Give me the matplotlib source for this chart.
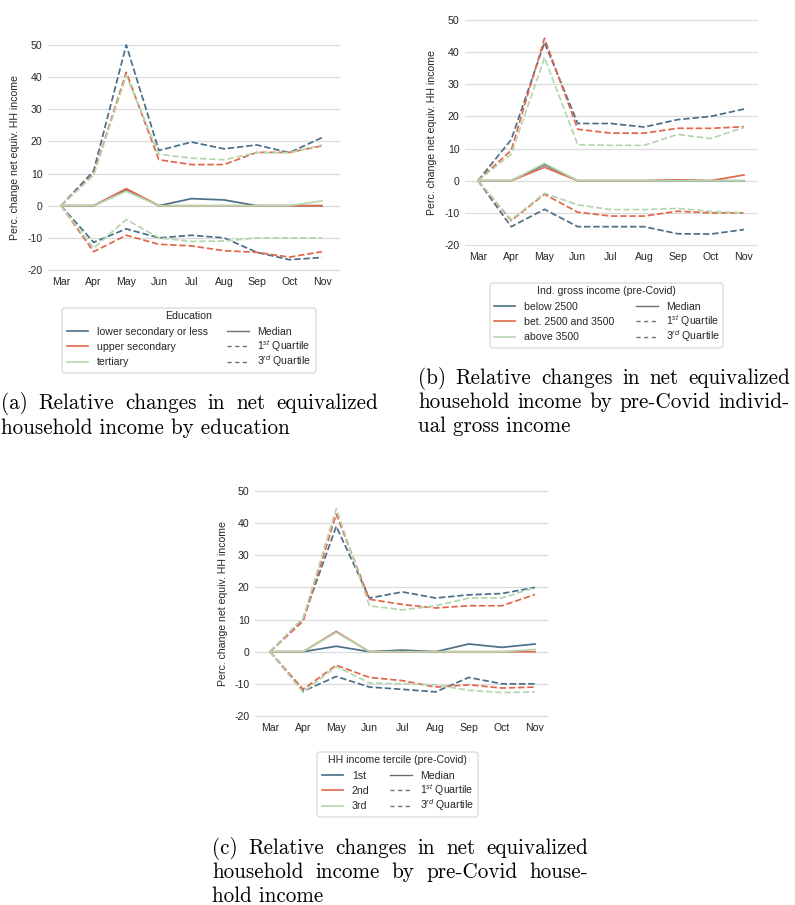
import numpy as np
import matplotlib
matplotlib.use('Agg')
import matplotlib.pyplot as plt
from matplotlib.lines import Line2D
from matplotlib.patches import FancyBboxPatch

W, H = 795, 905

months = ['Mar', 'Apr', 'May', 'Jun', 'Jul', 'Aug', 'Sep', 'Oct', 'Nov']
yticks = [-20, -10, 0, 10, 20, 30, 40, 50]

# (a) education
edu_labels = ['lower secondary or less', 'upper secondary', 'tertiary']
edu_low_med = [0, 0, 5.0, 0, 2.2, 1.8, 0, 0, 0]
edu_upp_med = [0, 0, 5.3, 0, 0, 0, 0, 0, 0]
edu_ter_med = [0, 0, 4.5, 0, 0, 0, 0, 0, 1.5]
edu_low_q1 = [0, -11.4, -7.2, -10, -9.2, -10, -14.5, -16.8, -16.1]
edu_upp_q1 = [0, -14.3, -9.2, -12, -12.5, -14, -14.5, -16, -14.3]
edu_ter_q1 = [0, -13.2, -4.3, -10, -11.1, -11, -10, -10, -10]
edu_low_q3 = [0, 10.8, 50, 17.2, 19.8, 17.7, 18.9, 16.5, 21.2]
edu_upp_q3 = [0, 9.8, 41.5, 14.3, 12.8, 12.8, 16.6, 16.6, 18.6]
edu_ter_q3 = [0, 9.5, 40.5, 16, 14.8, 14.3, 16.5, 16.5, 18.9]

# (b) individual gross income
inc_labels = ['below 2500', 'bet. 2500 and 3500', 'above 3500']
inc_low_med = [0, 0, 5.0, 0, 0, 0, 0, 0, 0]
inc_mid_med = [0, 0, 4.2, 0, 0, 0, 0.3, 0, 1.8]
inc_high_med = [0, 0, 5.4, 0, 0, 0, 0, 0, 0]
inc_low_q1 = [0, -14.3, -8.9, -14.3, -14.3, -14.3, -16.5, -16.6, -15.2]
inc_mid_q1 = [0, -12.4, -4.2, -9.8, -11, -11, -9.5, -10, -10]
inc_high_q1 = [0, -12.1, -3.9, -7.5, -9, -9, -8.6, -9.6, -10]
inc_low_q3 = [0, 12.8, 43, 17.8, 17.8, 16.7, 19, 20, 22.3]
inc_mid_q3 = [0, 9.5, 44.3, 16, 14.8, 14.8, 16.3, 16.3, 16.8]
inc_high_q3 = [0, 8.3, 38.3, 11.2, 11, 11, 14.4, 13.1, 16.6]

# (c) household income tercile
hh_labels = ['1st', '2nd', '3rd']
hh_1_med = [0, 0, 1.7, 0, 0.5, 0, 2.4, 1.35, 2.4]
hh_2_med = [0, 0, 6.3, 0, 0, 0, 0, 0, 0]
hh_3_med = [0, 0, 6.0, 0, 0, 0, 0, 0, 0.7]
hh_1_q1 = [0, -12.3, -7.7, -11, -11.7, -12.5, -8, -10, -10]
hh_2_q1 = [0, -11.7, -4.2, -8, -9, -11, -10.3, -11.3, -11]
hh_3_q1 = [0, -12.6, -4.6, -9.7, -10, -10.3, -12, -12.7, -12.5]
hh_1_q3 = [0, 10.3, 39, 16.7, 18.6, 16.7, 17.7, 18.1, 20]
hh_2_q3 = [0, 9.5, 42.8, 16.3, 14.7, 13.6, 14.3, 14.3, 17.8]
hh_3_q3 = [0, 10.5, 44.5, 14.3, 13, 14.3, 16.7, 16.7, 20]

stat_labels = ['Median', '1$^{st}$ Quartile', '3$^{rd}$ Quartile']
colors = ['#4b6f87', '#e2674a', '#b4d6ae']
gray = '#6e6e6e'
txt = '#262626'

plt.rcParams['font.family'] = ['Liberation Sans', 'DejaVu Sans']
plt.rcParams['mathtext.fontset'] = 'custom'
plt.rcParams['mathtext.rm'] = 'Liberation Sans'
plt.rcParams['mathtext.it'] = 'Liberation Sans:italic'
plt.rcParams['axes.unicode_minus'] = False

fs = 7.6
fig = plt.figure(figsize=(W / 100, H / 100), dpi=100)


def fx(px):
    return px / W


def fy(py):
    return 1 - py / H


def place(ax, mar_px, nov_px, y50_px, ym20_px, xlim, ylim=(-21, 52)):
    sx = (nov_px - mar_px) / 8
    sy = (ym20_px - y50_px) / 70
    left = mar_px + xlim[0] * sx
    right = mar_px + xlim[1] * sx
    top = y50_px - (ylim[1] - 50) * sy
    bottom = ym20_px + (-20 - ylim[0]) * sy
    ax.set_position([fx(left), fy(bottom), (right - left) / W, (bottom - top) / H])
    ax.set_xlim(*xlim)
    ax.set_ylim(*ylim)


def legend_box(left, right, top, col1, col2, title, labels):
    box = FancyBboxPatch((fx(left), fy(top + 65)), (right - left) / W, 65 / H,
                         boxstyle='round,pad=0,rounding_size=0.004',
                         transform=fig.transFigure, fc='white', ec='#d4d4d4', lw=0.8)
    fig.add_artist(box)
    fig.text(fx((left + right) / 2), fy(top + 11), title, ha='center', va='baseline',
             fontsize=fs, color=txt)
    styles = ['-', (0, (3, 2.5)), (0, (3, 2.5))]
    for i in range(3):
        y = top + 23 + 15.3 * i
        fig.add_artist(Line2D([fx(col1), fx(col1 + 21)], [fy(y), fy(y)],
                              transform=fig.transFigure, color=colors[i], lw=1.2))
        fig.text(fx(col1 + 30), fy(y + 3.8), labels[i], va='baseline', ha='left',
                 fontsize=fs, color=txt)
        fig.add_artist(Line2D([fx(col2), fx(col2 + 22)], [fy(y), fy(y)],
                              transform=fig.transFigure, color=gray, lw=1.0, ls=styles[i]))
        fig.text(fx(col2 + 30), fy(y + 3.8), stat_labels[i], va='baseline', ha='left',
                 fontsize=fs, color=txt)


def panel(med, q1, q3, pos, ylab_x):
    ax = fig.add_axes([0, 0, 1, 1])
    place(ax, *pos)
    x = np.arange(len(months))
    for i in range(3):
        ax.plot(x, med[i], color=colors[i], lw=1.25)
        ax.plot(x, q1[i], color=colors[i], lw=1.25, ls='--')
        ax.plot(x, q3[i], color=colors[i], lw=1.25, ls='--')
    ax.set_xticks(x)
    ax.set_xticklabels(months)
    ax.set_yticks(yticks)
    ax.tick_params(length=0, labelsize=fs, colors=txt)
    ax.tick_params(axis='y', pad=4)
    ax.tick_params(axis='x', pad=3)
    ax.grid(True, axis='y', color='#dcdcdc', lw=0.9)
    ax.set_axisbelow(True)
    for s in ax.spines.values():
        s.set_visible(False)
    ax.set_ylabel('Perc. change net equiv. HH income', fontsize=fs, color=txt)
    cy = fy((pos[2] + pos[3]) / 2)
    ax.yaxis.set_label_coords(fx(ylab_x), cy, transform=fig.transFigure)
    return ax


panel([edu_low_med, edu_upp_med, edu_ter_med],
      [edu_low_q1, edu_upp_q1, edu_ter_q1],
      [edu_low_q3, edu_upp_q3, edu_ter_q3],
      (61, 322, 45, 270, (-0.4, 8.55)), 20)
legend_box(62, 316, 308, 67, 227, 'Education', edu_labels)

panel([inc_low_med, inc_mid_med, inc_high_med],
      [inc_low_q1, inc_mid_q1, inc_high_q1],
      [inc_low_q3, inc_mid_q3, inc_high_q3],
      (478, 744, 20, 245, (-0.39, 8.42)), 437)
legend_box(490, 723, 283, 494, 636, 'Ind. gross income (pre-Covid)', inc_labels)

panel([hh_1_med, hh_2_med, hh_3_med],
      [hh_1_q1, hh_2_q1, hh_3_q1],
      [hh_1_q3, hh_2_q3, hh_3_q3],
      (270, 535, 491, 716, (-0.45, 8.39)), 228)
legend_box(317, 478, 752, 322, 390, 'HH income tercile (pre-Covid)', hh_labels)

# captions, justified like the LaTeX subcaptions
cap_fs = 15.2
renderer = fig.canvas.get_renderer()


def caption(lines, x0, x1, base0, step):
    for k, line in enumerate(lines):
        yb = fy(base0 + k * step)
        if k == len(lines) - 1:
            fig.text(fx(x0), yb, line, fontsize=cap_fs, family='cmr10', va='baseline', ha='left')
            continue
        words = line.split(' ')
        items = [fig.text(0, yb, w, fontsize=cap_fs, family='cmr10', va='baseline', ha='left')
                 for w in words]
        widths = [t.get_window_extent(renderer).width for t in items]
        gap = (x1 - x0 - sum(widths)) / (len(items) - 1)
        xx = x0
        for t, w in zip(items, widths):
            t.set_x(fx(xx))
            xx += w + gap


caption(['(a) Relative changes in net equivalized',
         'household income by education'], 1, 378, 409, 24.5)
caption(['(b) Relative changes in net equivalized',
         'household income by pre-Covid individ-',
         'ual gross income'], 418, 790, 384, 23.8)
caption(['(c) Relative changes in net equivalized',
         'household income by pre-Covid house-',
         'hold income'], 212, 588, 854, 23.8)

fig.savefig('out.png', dpi=100)
